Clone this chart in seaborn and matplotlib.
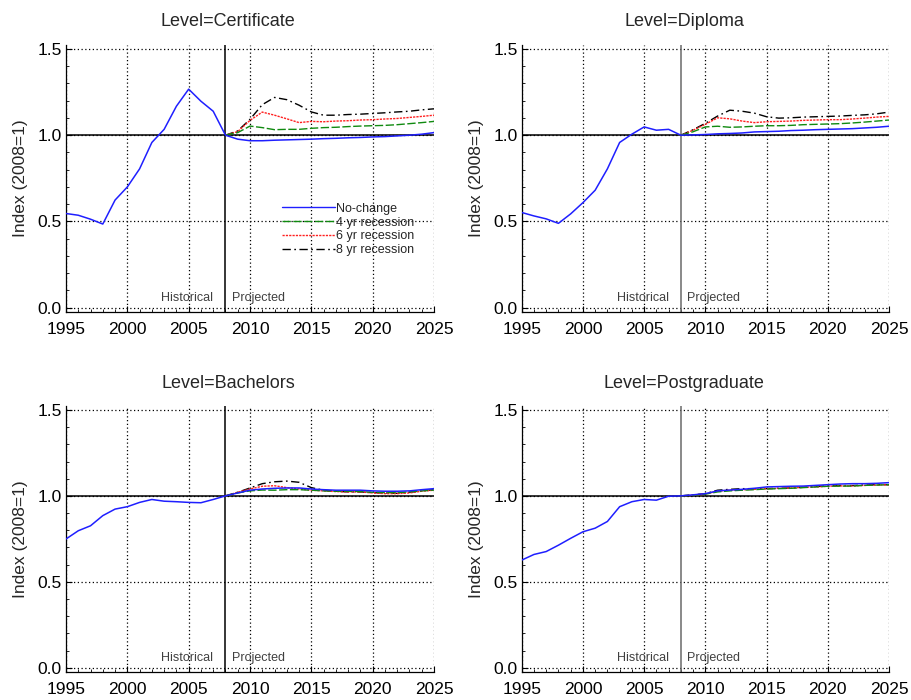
import numpy as np
import pandas as pd
import matplotlib
matplotlib.use("Agg")
import matplotlib.pyplot as plt
from matplotlib.ticker import MultipleLocator
from matplotlib.lines import Line2D
import seaborn as sns

sns.set_style("white")
plt.rcParams['font.family'] = ['Liberation Sans', 'DejaVu Sans']

years_hist = list(range(1995, 2009))
years_proj = list(range(2008, 2026))

levels = ["Certificate", "Diploma", "Bachelors", "Postgraduate"]
scenarios = ["No-change", "4 yr recession", "6 yr recession", "8 yr recession"]

hist_cert = [0.546, 0.536, 0.513, 0.485, 0.624, 0.700, 0.805, 0.958, 1.034, 1.168, 1.267, 1.197, 1.139, 1.000]
nochange_cert = [1.000, 0.977, 0.968, 0.968, 0.971, 0.973, 0.975, 0.977, 0.980, 0.982, 0.985, 0.987, 0.990, 0.992, 0.996, 1.000, 1.006, 1.015]
rec4_cert = [1.000, 1.015, 1.053, 1.044, 1.032, 1.034, 1.034, 1.040, 1.044, 1.046, 1.050, 1.053, 1.055, 1.057, 1.061, 1.067, 1.073, 1.080]
rec6_cert = [1.000, 1.021, 1.086, 1.134, 1.116, 1.095, 1.073, 1.080, 1.078, 1.082, 1.084, 1.088, 1.090, 1.094, 1.097, 1.103, 1.109, 1.116]
rec8_cert = [1.000, 1.025, 1.092, 1.177, 1.219, 1.206, 1.174, 1.135, 1.116, 1.116, 1.120, 1.122, 1.126, 1.130, 1.135, 1.139, 1.147, 1.153]

hist_dipl = [0.552, 0.532, 0.515, 0.489, 0.544, 0.609, 0.681, 0.805, 0.958, 1.006, 1.048, 1.029, 1.034, 1.000]
nochange_dipl = [1.000, 1.002, 1.004, 1.008, 1.010, 1.013, 1.019, 1.021, 1.023, 1.027, 1.029, 1.032, 1.034, 1.036, 1.038, 1.042, 1.046, 1.052]
rec4_dipl = [1.000, 1.020, 1.048, 1.052, 1.046, 1.048, 1.052, 1.055, 1.055, 1.057, 1.061, 1.063, 1.065, 1.067, 1.071, 1.076, 1.082, 1.088]
rec6_dipl = [1.000, 1.029, 1.063, 1.101, 1.095, 1.082, 1.073, 1.078, 1.080, 1.082, 1.086, 1.088, 1.090, 1.090, 1.094, 1.099, 1.105, 1.109]
rec8_dipl = [1.000, 1.032, 1.069, 1.111, 1.145, 1.139, 1.128, 1.107, 1.099, 1.101, 1.105, 1.107, 1.109, 1.111, 1.115, 1.118, 1.124, 1.134]

hist_bach = [0.749, 0.797, 0.826, 0.885, 0.923, 0.937, 0.962, 0.979, 0.969, 0.966, 0.962, 0.960, 0.979, 1.000]
nochange_bach = [1.000, 1.017, 1.033, 1.040, 1.044, 1.046, 1.046, 1.040, 1.036, 1.033, 1.033, 1.033, 1.029, 1.027, 1.027, 1.029, 1.036, 1.042]
rec4_bach = [1.000, 1.017, 1.029, 1.034, 1.033, 1.036, 1.036, 1.033, 1.029, 1.027, 1.027, 1.025, 1.021, 1.019, 1.019, 1.023, 1.029, 1.034]
rec6_bach = [1.000, 1.021, 1.040, 1.056, 1.059, 1.048, 1.040, 1.033, 1.029, 1.025, 1.023, 1.023, 1.017, 1.013, 1.013, 1.017, 1.027, 1.033]
rec8_bach = [1.000, 1.021, 1.046, 1.071, 1.082, 1.086, 1.079, 1.048, 1.033, 1.027, 1.023, 1.023, 1.019, 1.017, 1.015, 1.021, 1.029, 1.036]

hist_post = [0.626, 0.659, 0.676, 0.713, 0.753, 0.791, 0.812, 0.851, 0.937, 0.966, 0.979, 0.975, 0.998, 1.000]
nochange_post = [1.000, 1.006, 1.013, 1.029, 1.034, 1.038, 1.044, 1.052, 1.054, 1.056, 1.057, 1.061, 1.065, 1.069, 1.071, 1.071, 1.073, 1.077]
rec4_post = [1.000, 1.004, 1.010, 1.023, 1.029, 1.033, 1.036, 1.040, 1.042, 1.044, 1.048, 1.052, 1.056, 1.057, 1.057, 1.061, 1.063, 1.065]
rec6_post = [1.000, 1.004, 1.011, 1.027, 1.033, 1.036, 1.038, 1.042, 1.044, 1.046, 1.050, 1.052, 1.056, 1.058, 1.058, 1.061, 1.063, 1.065]
rec8_post = [1.000, 1.006, 1.013, 1.033, 1.038, 1.042, 1.042, 1.042, 1.044, 1.046, 1.050, 1.054, 1.058, 1.060, 1.060, 1.063, 1.065, 1.065]

hist_data = {"Certificate": hist_cert, "Diploma": hist_dipl, "Bachelors": hist_bach, "Postgraduate": hist_post}
proj_data = {
    "Certificate": [nochange_cert, rec4_cert, rec6_cert, rec8_cert],
    "Diploma": [nochange_dipl, rec4_dipl, rec6_dipl, rec8_dipl],
    "Bachelors": [nochange_bach, rec4_bach, rec6_bach, rec8_bach],
    "Postgraduate": [nochange_post, rec4_post, rec6_post, rec8_post],
}

colors = {"No-change": "#1f1fff", "4 yr recession": "#108a10", "6 yr recession": "#ff2020", "8 yr recession": "#000000"}
linestyles = {"No-change": "-", "4 yr recession": (0, (6, 1.8)),
              "6 yr recession": (0, (1.6, 0.8)), "8 yr recession": (0, (6, 2.5, 1.2, 2.5))}

fig = plt.figure(figsize=(9.12, 7.0), dpi=100)
W, H = 912.0, 700.0
positions = {
    "Certificate": (66, 45, 434, 312),
    "Diploma": (521.7, 45, 889, 312),
    "Bachelors": (66, 406, 434, 672),
    "Postgraduate": (521.7, 406, 889, 672),
}
title_pos = {"Certificate": (228, 22), "Diploma": (684, 22), "Bachelors": (228, 384), "Postgraduate": (684, 384)}
vline_color = {"Certificate": "black", "Diploma": "#6a6a6a", "Bachelors": "black", "Postgraduate": "#6a6a6a"}

for lvl in levels:
    x0, y0, x1, y1 = positions[lvl]
    ax = fig.add_axes([x0 / W, 1 - y1 / H, (x1 - x0) / W, (y1 - y0) / H])
    ax.set_xlim(1995, 2025)
    ax.set_ylim(-0.025, 1.523)
    ax.xaxis.set_major_locator(MultipleLocator(5))
    ax.xaxis.set_minor_locator(MultipleLocator(1))
    ax.yaxis.set_major_locator(MultipleLocator(0.5))
    ax.yaxis.set_minor_locator(MultipleLocator(0.1))
    ax.yaxis.set_major_formatter(matplotlib.ticker.FormatStrFormatter("%.1f"))
    ax.grid(True, which="major", color="black", linestyle=(0, (1, 2)), linewidth=0.9)
    ax.tick_params(which="major", direction="in", length=4, width=0.8, labelsize=12.5, colors="black")
    ax.tick_params(axis="x", which="major", pad=7)
    ax.tick_params(axis="y", which="major", pad=3)
    ax.tick_params(which="minor", direction="in", length=2.5, width=0.6, colors="black")
    ax.tick_params(axis="both", which="both", bottom=True, left=True)
    for s in ["top", "right"]:
        ax.spines[s].set_visible(False)
    for s in ["left", "bottom"]:
        ax.spines[s].set_color("black")
        ax.spines[s].set_linewidth(0.9)

    ax.axhline(1.0, color="black", linewidth=1.1, zorder=2)
    ax.axvline(2008, color=vline_color[lvl], linewidth=1.1, zorder=2)

    # projections (recession scenarios first, then no-change on top)
    for scen, vals in list(zip(scenarios, proj_data[lvl]))[1:][::-1]:
        df = pd.DataFrame({"Year": years_proj, "Index": vals})
        sns.lineplot(data=df, x="Year", y="Index", ax=ax, color=colors[scen],
                     linestyle=linestyles[scen], linewidth=1.0, zorder=3)
    full_years = years_hist + years_proj[1:]
    full_vals = hist_data[lvl] + proj_data[lvl][0][1:]
    df = pd.DataFrame({"Year": full_years, "Index": full_vals})
    sns.lineplot(data=df, x="Year", y="Index", ax=ax, color=colors["No-change"], linewidth=1.1, zorder=4)

    ax.set_xlabel("")
    ax.set_ylabel("Index (2008=1)", fontsize=12.5)
    ax.yaxis.set_label_coords(-0.103, 0.5)

    ax.text(2007.0, 0.022, "Historical", ha="right", va="bottom", fontsize=9, color="#404040")
    ax.text(2008.5, 0.022, "Projected", ha="left", va="bottom", fontsize=9, color="#404040")

    tx, ty = title_pos[lvl]
    fig.text(tx / W, 1 - ty / H, "Level=" + lvl, ha="center", va="center", fontsize=13)

    if lvl == "Certificate":
        handles = [Line2D([0], [0], color=colors[s], linestyle=linestyles[s], linewidth=1.0) for s in scenarios]
        ax.legend(handles, scenarios, loc="upper left", bbox_to_anchor=(0.581, 0.419),
                  frameon=False, fontsize=9, handlelength=4.2, handletextpad=0.1,
                  labelspacing=0.15, borderpad=0.2, borderaxespad=0)

fig.savefig("out.png", dpi=100)
